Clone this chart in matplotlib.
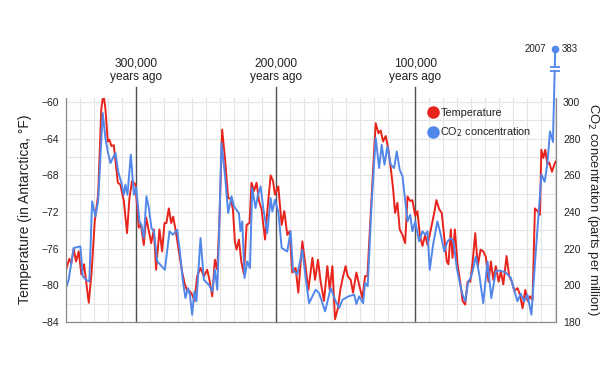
import numpy as np
import matplotlib
matplotlib.use("Agg")
import matplotlib.pyplot as plt
from matplotlib.lines import Line2D

plt.rcParams['font.family'] = ['Liberation Sans', 'DejaVu Sans']

# Vostok ice core, thousands of years before present
temp_kya = [350.2, 347.8, 346.4, 344.7, 343.0, 341.1, 339.2, 337.3, 333.9, 332.0,
            329.6, 327.2, 324.9, 323.4, 322.0, 320.3, 319.1, 317.7, 316.0, 313.1,
            311.3, 308.8, 306.5, 304.8, 302.9, 300.5, 298.1, 296.6, 294.5, 292.8,
            290.9, 289.2, 287.3, 285.7, 283.3, 281.4, 279.7, 278.3, 276.6, 274.9,
            273.5, 271.8, 269.4, 267.0, 265.1, 263.4, 261.8, 259.9, 258.2, 256.3,
            253.9, 251.5, 249.1, 247.5, 245.5, 243.6, 241.9, 240.3, 238.4, 236.4,
            234.1, 232.4, 230.7, 229.3, 228.1, 226.4, 224.7, 222.8, 220.9, 218.8,
            217.4, 215.6, 213.8, 212.0, 210.2, 207.7, 205.9, 203.7, 202.0, 200.6,
            198.2, 195.8, 193.9, 191.8, 190.1, 188.2, 185.8, 183.9, 181.0, 179.1,
            176.7, 173.8, 171.9, 169.8, 167.9, 165.5, 163.1, 161.4, 159.5, 157.6,
            155.7, 153.6, 151.8, 150.0, 148.5, 146.4, 144.7, 142.3, 140.4, 138.0,
            136.1, 134.4, 132.1, 128.5, 126.5, 124.9, 123.2, 121.3, 119.6, 117.7,
            116.0, 114.6, 112.9, 111.3, 109.3, 107.4, 105.7, 103.8, 102.2, 100.2,
            98.6, 96.9, 95.0, 93.1, 91.4, 89.8, 87.8, 86.6, 85.0, 83.0,
            81.2, 79.4, 77.6, 76.4, 74.7, 73.5, 71.8, 69.9, 68.0, 66.3,
            64.4, 62.7, 60.8, 59.2, 57.2, 55.4, 53.4, 51.5, 49.6, 47.7,
            46.0, 44.3, 42.5, 40.5, 38.9, 37.1, 34.8, 32.9, 31.0, 29.3,
            26.9, 25.3, 23.3, 21.4, 19.7, 18.1, 16.2, 14.5, 12.6, 10.9,
            9.9, 8.5, 7.1, 5.6, 4.2, 2.3, 0.6, -0.3]
temp_f = [-78.3, -77.1, -77.6, -76.0, -77.4, -76.3, -78.8, -77.7, -81.9, -78.8,
          -73.0, -70.1, -60.7, -59.1, -60.7, -64.3, -64.1, -64.8, -64.7, -68.8,
          -69.0, -70.8, -74.3, -70.5, -68.6, -69.0, -73.7, -73.4, -75.6, -72.6,
          -74.1, -75.4, -73.9, -78.3, -73.9, -76.3, -73.2, -73.2, -71.6, -73.2,
          -72.5, -73.9, -76.3, -78.6, -79.9, -80.6, -80.6, -81.0, -81.7, -79.0,
          -78.1, -79.0, -78.3, -79.4, -81.2, -77.2, -78.3, -72.6, -63.0, -66.1,
          -70.5, -70.5, -71.7, -75.2, -76.1, -75.0, -77.4, -78.8, -73.4, -73.2,
          -68.8, -69.7, -68.8, -70.8, -71.7, -75.0, -71.6, -68.0, -68.6, -70.1,
          -69.2, -73.4, -71.9, -74.5, -74.1, -78.6, -78.1, -80.8, -75.2, -77.4,
          -80.5, -77.0, -79.4, -77.2, -79.6, -81.7, -77.9, -80.5, -77.9, -83.7,
          -82.6, -80.3, -79.0, -77.9, -79.0, -79.4, -80.8, -78.6, -79.9, -81.4,
          -79.0, -79.0, -72.3, -62.3, -63.4, -63.1, -64.3, -63.7, -65.0, -67.2,
          -69.5, -72.1, -71.0, -73.9, -74.5, -75.4, -70.3, -70.8, -70.7, -72.4,
          -71.9, -74.5, -75.7, -74.5, -75.6, -74.5, -73.0, -72.1, -70.7, -71.7,
          -72.1, -74.8, -77.4, -77.7, -73.9, -77.0, -73.9, -77.7, -79.6, -81.7,
          -82.1, -79.6, -79.6, -77.6, -74.3, -77.9, -76.1, -76.3, -76.9, -79.6,
          -77.4, -79.4, -77.9, -79.6, -78.5, -79.9, -76.8, -79.0, -79.6, -80.6,
          -80.3, -81.0, -82.5, -80.5, -81.7, -81.2, -81.6, -71.6, -71.9, -72.3,
          -65.2, -66.1, -65.2, -66.8, -66.6, -67.6, -66.8, -66.5]

co2_kya = [350.2, 348.3, 344.7, 339.9, 338.2, 335.8, 333.5, 331.5, 329.2, 327.2,
           323.9, 322.0, 320.3, 318.4, 316.7, 314.8, 312.9, 310.5, 308.8, 307.7,
           306.2, 303.8, 301.6, 300.0, 297.6, 296.2, 294.5, 292.6, 290.9, 289.0,
           287.3, 284.9, 279.4, 276.1, 273.7, 270.6, 268.7, 266.5, 264.7, 262.9,
           261.5, 259.9, 258.2, 256.8, 253.9, 251.5, 247.9, 245.5, 243.6, 241.9,
           240.7, 238.9, 236.4, 234.1, 231.7, 230.0, 228.1, 226.4, 225.3, 224.0,
           222.4, 220.4, 218.5, 216.9, 214.5, 212.8, 210.9, 209.0, 206.1, 203.7,
           202.5, 200.6, 198.2, 195.8, 191.8, 189.4, 187.7, 184.6, 181.0, 178.6,
           176.2, 171.5, 169.0, 164.7, 160.7, 157.1, 154.7, 152.3, 148.0, 143.9,
           142.3, 140.4, 137.5, 136.1, 134.2, 131.4, 128.5, 126.0, 124.2, 122.2,
           120.1, 117.7, 115.3, 113.4, 111.3, 109.3, 107.4, 105.7, 103.8, 102.2,
           100.2, 97.4, 95.0, 93.1, 91.4, 89.8, 87.4, 84.3, 81.9, 79.4,
           77.1, 74.7, 72.8, 70.4, 68.0, 66.3, 64.4, 62.2, 60.4, 58.6,
           56.8, 54.3, 51.5, 48.4, 45.7, 42.4, 39.3, 35.3, 31.7, 29.4,
           27.0, 24.7, 22.2, 19.9, 17.0, 14.1, 11.6, 9.8, 7.5, 5.5,
           3.7, 1.6]
co2_ppm = [198.5, 203.0, 220.4, 221.3, 204.9, 203.0, 202.2, 245.8, 237.7, 245.8,
           294.0, 280.4, 273.0, 266.7, 269.4, 272.2, 262.2, 255.8, 249.4, 254.9,
           249.4, 271.3, 249.4, 253.5, 234.9, 233.1, 225.8, 248.6, 242.2, 231.3,
           229.5, 213.1, 208.5, 229.5, 227.6, 230.3, 218.5, 202.2, 193.1, 198.5,
           194.9, 184.0, 196.7, 191.3, 225.8, 203.0, 200.3, 196.7, 208.5, 197.6,
           225.8, 277.6, 260.3, 239.4, 248.6, 243.1, 241.2, 239.4, 229.5, 234.9,
           204.0, 213.1, 209.4, 253.1, 242.2, 249.4, 254.0, 242.2, 228.5, 247.6,
           240.3, 246.7, 240.3, 220.4, 218.5, 229.5, 208.5, 205.8, 219.4, 204.0,
           190.3, 197.6, 195.8, 185.8, 198.5, 191.3, 187.6, 192.1, 194.0, 194.9,
           189.8, 194.0, 190.3, 201.3, 199.5, 244.9, 280.4, 264.0, 276.7, 265.8,
           275.8, 265.8, 264.0, 273.1, 263.1, 259.5, 246.7, 234.9, 238.5, 229.5,
           234.9, 224.0, 229.5, 227.6, 229.5, 208.5, 222.2, 234.9, 227.6, 218.5,
           224.0, 225.8, 224.0, 209.4, 200.3, 194.9, 191.3, 202.2, 204.0, 209.4,
           215.8, 205.8, 190.3, 213.0, 193.0, 208.0, 208.0, 207.0, 204.0, 197.6,
           191.3, 195.5, 191.3, 195.0, 184.0, 216.0, 242.0, 260.5, 256.5, 267.0,
           284.0, 278.5]

# modern measurement (2007), drawn above a broken axis
now_kya = -0.057
now_year = "2007"
now_co2 = 383

marker_kya = [300, 200, 100]
marker_labels = ["300,000\nyears ago", "200,000\nyears ago", "100,000\nyears ago"]

RED = "#e8231b"
BLUE = "#5287ea"
GRID = "#e4e4e4"
TXT = "#222222"

fig = plt.figure(figsize=(6.16, 3.83), dpi=100)
ax = fig.add_axes([66 / 616, 1 - 322 / 383, 490 / 616, (322 - 97.5) / 383])
ax2 = ax.twinx()

t_lo, t_hi = -84, -59.5
c_lo, c_hi = 180, 302.5
ax.set_xlim(350.2, -0.6)
ax.set_ylim(t_lo, t_hi)
ax2.set_ylim(c_lo, c_hi)

ax.set_xticks(np.arange(350, -1, -10))
ax.set_yticks(np.arange(-84, -59, 4))
ax.set_yticks(np.arange(-84, -59, 2), minor=True)
ax2.set_yticks(np.arange(180, 301, 20))
ax.grid(True, which='both', color=GRID, lw=0.8)
ax.tick_params(axis='x', length=0, labelbottom=False)
ax.tick_params(axis='y', which='both', length=0, labelsize=7.5, pad=5, labelcolor=TXT)
ax2.tick_params(axis='y', length=0, labelsize=7.5, pad=5, labelcolor=TXT)
ax.set_axisbelow(True)

for a in (ax, ax2):
    a.spines['top'].set_visible(False)
    for s in ('left', 'bottom', 'right'):
        a.spines[s].set_color('#8a8a8a')
        a.spines[s].set_linewidth(0.8)

ax.set_ylabel("Temperature (in Antarctica, °F)", fontsize=10, labelpad=7, color=TXT)
ax2.set_ylabel("CO$_2$ concentration (parts per million)", fontsize=9.4,
               rotation=270, labelpad=15, color=TXT)

# time markers sticking out above the plot
for k, lab in zip(marker_kya, marker_labels):
    ax.plot([k, k], [t_lo, t_hi + 1.1], color='#505050', lw=1, clip_on=False, zorder=1)
    ax.text(k, t_hi + 1.6, lab, ha='center', va='bottom', fontsize=8.6,
            linespacing=1.1, color=TXT)

ax.plot(temp_kya, temp_f, color=RED, lw=1.4)
ax2.plot(co2_kya, co2_ppm, color=BLUE, lw=1.4)

# broken axis up to the 2007 value
top_y = c_lo + (c_hi - c_lo) * 1.215
brk_lo, brk_hi = 316.8, 319.3
seg_x = [co2_kya[-1], now_kya]
seg_y = [co2_ppm[-1], top_y]
x_lo = np.interp(brk_lo, seg_y, seg_x)
x_hi = np.interp(brk_hi, seg_y, seg_x)
ax2.plot([co2_kya[-1], x_lo], [co2_ppm[-1], brk_lo], color=BLUE, lw=1.4, clip_on=False)
ax2.plot([x_hi, now_kya], [brk_hi, top_y], color=BLUE, lw=1.4, clip_on=False)
ax2.plot([x_lo, x_hi], [brk_lo, brk_hi], color=BLUE, lw=0, marker='_',
         markersize=7, markeredgewidth=1.3, clip_on=False)
ax2.plot([now_kya], [top_y], 'o', color=BLUE, markersize=4.5, clip_on=False)
ax2.annotate(now_year, (now_kya, top_y), xytext=(-9, 0), textcoords='offset pixels',
             ha='right', va='center', fontsize=7, color=TXT, annotation_clip=False)
ax2.annotate(str(now_co2), (now_kya, top_y), xytext=(6, 0), textcoords='offset pixels',
             ha='left', va='center', fontsize=7, color=TXT, annotation_clip=False)

handles = [Line2D([], [], ls='', marker='o', color=RED, markersize=8),
           Line2D([], [], ls='', marker='o', color=BLUE, markersize=8)]
fig.legend(handles, ["Temperature", "CO$_2$ concentration"], loc='upper left',
           bbox_to_anchor=(429 / 616, 1 - 108 / 383), frameon=False, fontsize=7.8,
           handlelength=0.8, handletextpad=0.25, labelspacing=0.7,
           borderpad=0, borderaxespad=0, labelcolor=TXT)

fig.savefig("out.png", dpi=100)
